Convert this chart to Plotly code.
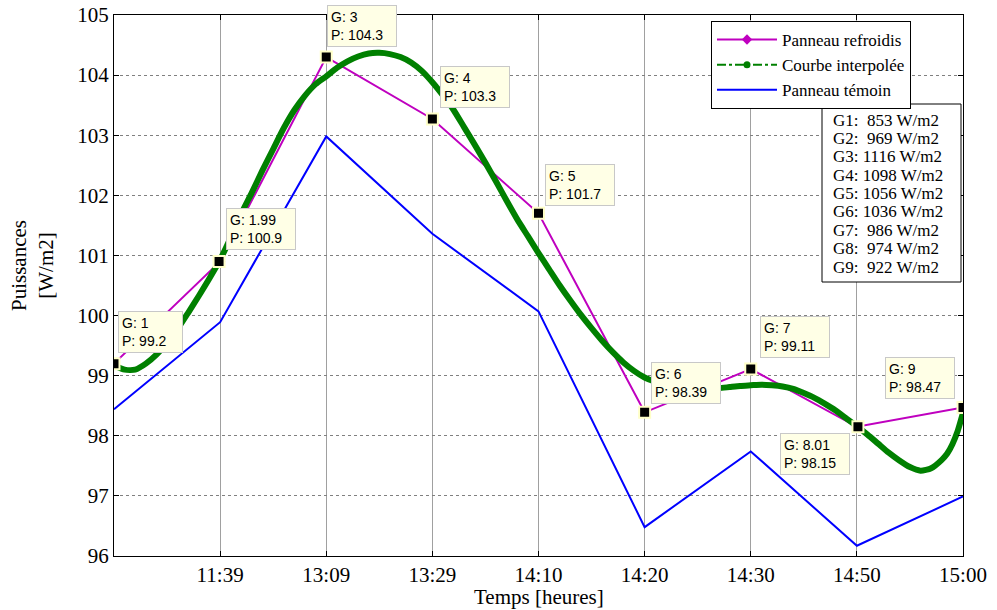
import plotly.graph_objects as go

# ---------------- data ----------------
g_index = [1, 2, 3, 4, 5, 6, 7, 8, 9]
time_labels = ["11:39", "13:09", "13:29", "14:10", "14:20", "14:30", "14:50", "15:00"]
tick_positions = [2, 3, 4, 5, 6, 7, 8, 9]

p_refroidis = [99.2, 100.9, 104.3, 103.27, 101.7, 98.39, 99.11, 98.15, 98.47]
p_temoin = [98.44, 99.89, 102.98, 101.36, 100.07, 96.48, 97.74, 96.17, 96.99]

interp_x = [1.0, 1.1, 1.2, 1.3, 1.4, 1.5, 1.6, 1.7, 1.8, 1.9, 2.0, 2.1, 2.2, 2.3, 2.4, 2.5,
            2.6, 2.7, 2.8, 2.9, 3.0, 3.1, 3.2, 3.3, 3.4, 3.5, 3.6, 3.7, 3.8, 3.9, 4.0, 4.1,
            4.2, 4.3, 4.4, 4.5, 4.6, 4.7, 4.8, 4.9, 5.0, 5.1, 5.2, 5.3, 5.4, 5.5, 5.6, 5.7,
            5.8, 5.9, 6.0, 6.1, 6.2, 6.3, 6.4, 6.5, 6.6, 6.7, 6.8, 6.9, 7.0, 7.1, 7.2, 7.3,
            7.4, 7.5, 7.6, 7.7, 7.8, 7.9, 8.0, 8.1, 8.2, 8.3, 8.4, 8.5, 8.6, 8.7, 8.8, 8.85,
            8.9, 8.95, 9.0]
interp_y = [99.17, 99.1, 99.1, 99.2, 99.35, 99.55, 99.78, 100.05, 100.33, 100.62, 100.93,
            101.3, 101.7, 102.05, 102.42, 102.77, 103.12, 103.42, 103.66, 103.85, 103.98,
            104.12, 104.23, 104.31, 104.36, 104.37, 104.35, 104.3, 104.21, 104.07, 103.88,
            103.66, 103.42, 103.13, 102.84, 102.54, 102.23, 101.91, 101.6, 101.32, 101.04,
            100.77, 100.5, 100.25, 100.01, 99.79, 99.58, 99.39, 99.22, 99.08, 98.97, 98.9,
            98.85, 98.81, 98.79, 98.78, 98.78, 98.79, 98.81, 98.83, 98.84, 98.85, 98.84,
            98.82, 98.78, 98.71, 98.63, 98.53, 98.42, 98.29, 98.16, 98.02, 97.87, 97.72,
            97.59, 97.48, 97.42, 97.46, 97.6, 97.7, 97.86, 98.08, 98.38]

tip_x = [1, 1.99, 3, 4, 5, 6, 7, 8.01, 9]
tip_y = [99.2, 100.9, 104.3, 103.27, 101.7, 98.39, 99.11, 98.15, 98.47]
tip_g_labels = ["1", "1.99", "3", "4", "5", "6", "7", "8.01", "9"]
tip_p_labels = ["99.2", "100.9", "104.3", "103.3", "101.7", "98.39", "99.11", "98.15", "98.47"]

irradiance = [853, 969, 1116, 1098, 1056, 1036, 986, 974, 922]

# ---------------- layout helpers ----------------
W, H = 997, 610
L, R, T, B = 114, 963, 15, 556  # plot area in pixels


def px_x(p):
    return (p - L) / (R - L)


def px_y(p):
    return 1 - (p - T) / (B - T)


SERIF = "Liberation Serif, Times New Roman, serif"
SANS = "Liberation Sans, Arial, sans-serif"
MAGENTA = "#BF00BF"
GREEN = "#008000"
BLUE = "#0000FF"

fig = go.Figure()

fig.add_trace(go.Scatter(
    x=g_index, y=p_refroidis, mode="lines+markers", name="Panneau refroidis",
    line=dict(color=MAGENTA, width=2),
    marker=dict(symbol="diamond", size=8, color=MAGENTA)))

# legend-only entry showing the dash-dot / dot style
fig.add_trace(go.Scatter(
    x=[None], y=[None], mode="lines+markers", name="Courbe interpolée",
    line=dict(color=GREEN, width=2, dash="dashdot"),
    marker=dict(symbol="circle", size=7, color=GREEN)))

fig.add_trace(go.Scatter(
    x=g_index, y=p_temoin, mode="lines", name="Panneau témoin",
    line=dict(color=BLUE, width=2)))

fig.add_trace(go.Scatter(
    x=interp_x, y=interp_y, mode="lines", showlegend=False,
    line=dict(color=GREEN, width=6, shape="spline", smoothing=0.6)))

fig.add_trace(go.Scatter(
    x=tip_x, y=tip_y, mode="markers", showlegend=False,
    marker=dict(symbol="square", size=11, color="black",
                line=dict(color="#FFFFC8", width=2))))

# ---------------- data tips ----------------
# (xanchor, yanchor, xshift, yshift)
tip_place = [("left", "bottom", 4, 11), ("left", "bottom", 7, 11), ("left", "bottom", 1, 10),
             ("left", "bottom", 8, 11), ("left", "bottom", 6, 7), ("left", "bottom", 6, 8),
             ("left", "bottom", 9, 11), ("right", "top", -8, -6), ("right", "bottom", -8, 9)]
for xv, yv, g, p, (xa, ya, xs, ys) in zip(tip_x, tip_y, tip_g_labels, tip_p_labels, tip_place):
    w = 57 if len(p) <= 4 else 62
    fig.add_annotation(
        x=xv, y=yv, xref="x", yref="y", showarrow=False,
        text=f"G: {g}<br>P: {p}", align="left", width=w,
        xanchor=xa, yanchor=ya, xshift=xs, yshift=ys,
        font=dict(family=SANS, size=14, color="black"),
        bgcolor="#FFFFE6", bordercolor="#C8C8C8", borderwidth=1, borderpad=3)

# ---------------- irradiance table ----------------
fig.add_shape(type="rect", xref="paper", yref="paper",
              x0=px_x(822), x1=px_x(961), y0=px_y(282), y1=px_y(104),
              line=dict(color="black", width=1), fillcolor="white", layer="above")
for i, g in enumerate(irradiance):
    pad = "\u00a0" if g < 1000 else ""
    fig.add_annotation(
        x=px_x(831), y=px_y(120 + 18.4 * i), xref="paper", yref="paper",
        xanchor="left", yanchor="middle", showarrow=False,
        text=f"G{i + 1}:{pad} {g} W/m2",
        font=dict(family=SERIF, size=17, color="black"))

# ---------------- axis titles ----------------
fig.add_annotation(
    x=px_x(32), y=px_y(266), xref="paper", yref="paper", showarrow=False,
    text="Puissances<br>[W/m2]", textangle=-90, xanchor="center", yanchor="middle",
    font=dict(family=SERIF, size=21, color="black"))
fig.add_annotation(
    x=0.5, y=px_y(597), xref="paper", yref="paper", showarrow=False,
    text="Temps [heures]", xanchor="center", yanchor="middle",
    font=dict(family=SERIF, size=21, color="black"))

axis_common = dict(
    showline=True, linecolor="black", linewidth=1, mirror="ticks",
    ticks="inside", ticklen=5, tickcolor="black", tickwidth=1,
    showgrid=True, zeroline=False, automargin=False, ticklabeloverflow="allow",
    tickfont=dict(family=SERIF, size=21, color="black"))

fig.update_xaxes(range=[1, 9], tickmode="array", tickvals=tick_positions,
                 ticktext=time_labels, gridcolor="#A0A0A0", gridwidth=1, **axis_common)
fig.update_yaxes(range=[96, 105], tickmode="linear", tick0=96, dtick=1,
                 gridcolor="#808080", griddash="dot", gridwidth=1, **axis_common)

fig.update_layout(
    template="none",
    width=W, height=H,
    margin=dict(l=L, r=W - R, t=T, b=H - B, pad=0, autoexpand=False),
    paper_bgcolor="white", plot_bgcolor="white",
    showlegend=True,
    legend=dict(x=px_x(711), y=px_y(21), xanchor="left", yanchor="top",
                bgcolor="white", bordercolor="black", borderwidth=1,
                font=dict(family=SERIF, size=17, color="black"),
                itemwidth=60, tracegroupgap=0),
)

# remove the default 8px page margin so the figure fills the window exactly
fig.write_html("out.html", config={"displayModeBar": False},
               post_script="document.body.style.margin='0';")
